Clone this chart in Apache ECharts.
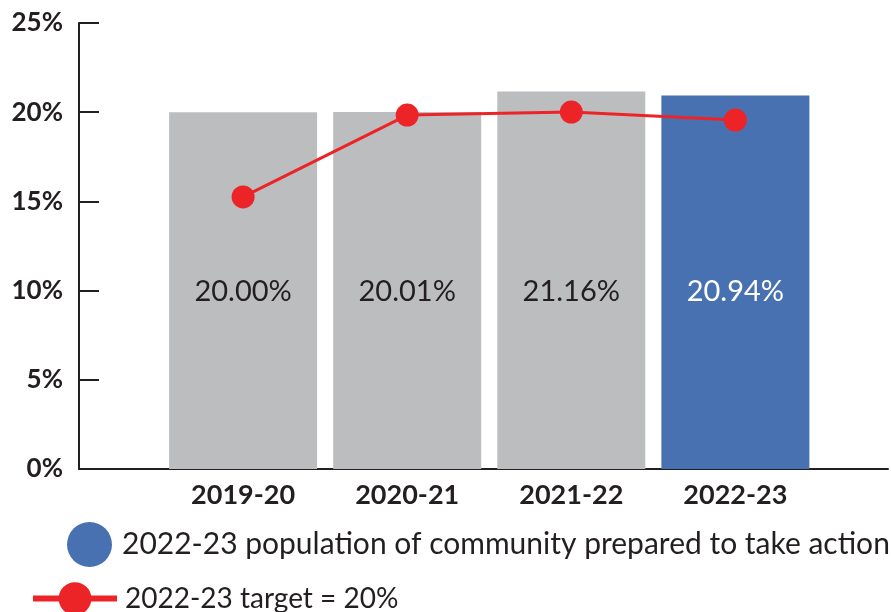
<!DOCTYPE html>
<html>
<head>
<meta charset="utf-8">
<script src="https://cdn.jsdelivr.net/npm/echarts@6/dist/echarts.min.js"></script>
<style>
  html, body { margin: 0; padding: 0; background: #fff; }
  #chart { width: 891px; height: 612px; }
</style>
</head>
<body>
<div id="chart"></div>
<script>
const categories = ['2019-20', '2020-21', '2021-22', '2022-23'];
const populationValues = [20.00, 20.01, 21.16, 20.94];
const targetValues = [15.25, 19.84, 20.01, 19.56];
const barName = '2022-23 population of community prepared to take action';
const lineName = '2022-23 target = 20%';

const font = 'Lato';
const grey = '#bcbdbf';
const blue = '#4771b1';
const red = '#ec2428';

let chart = echarts.init(document.getElementById('chart'));

// bars: grey for past years, blue for current
let barData = populationValues.map((v, i) => ({
    value: [i, v],
    itemStyle: { color: i === categories.length - 1 ? blue : grey },
    label: { color: i === categories.length - 1 ? '#fff' : '#231f20' }
}));
let lineData = targetValues.map((v, i) => [i, v]);

let option = {
    animation: false,
    grid: { left: 79, right: 0, top: 23, bottom: 143 },
    xAxis: {
        type: 'value',
        min: -1,
        max: 3.93,
        interval: 1,
        splitLine: { show: false },
        axisTick: { show: false },
        axisLine: { show: true, onZero: false, lineStyle: { color: '#231f20', width: 2 } },
        axisLabel: {
            margin: 13,
            fontFamily: font,
            fontWeight: 'bold',
            fontSize: 27,
            color: '#231f20',
            formatter: v => (Number.isInteger(v) && categories[v]) ? categories[v] : ''
        }
    },
    yAxis: {
        type: 'value',
        min: 0,
        max: 25,
        interval: 5,
        splitLine: { show: false },
        axisLine: { show: true, onZero: false, lineStyle: { color: '#231f20', width: 2 } },
        axisTick: { show: true, inside: true, length: 20, lineStyle: { color: '#231f20', width: 2 } },
        axisLabel: {
            margin: 16,
            fontFamily: font,
            fontWeight: 'bold',
            fontSize: 26,
            color: '#231f20',
            formatter: '{value}%'
        }
    },
    legend: [{
        orient: 'vertical',
        left: 67,
        top: 522,
        padding: 0,
        icon: 'circle',
        itemWidth: 45,
        itemHeight: 45,
        data: [barName],
        textStyle: { fontFamily: font, fontSize: 30, color: '#231f20', padding: [0, 0, 0, 5] }
    }, {
        orient: 'vertical',
        left: 30,
        bottom: -3,
        padding: 0,
        itemWidth: 84,
        itemHeight: 41,
        data: [lineName],
        lineStyle: { width: 6 },
        textStyle: { fontFamily: font, fontSize: 28, color: '#231f20', padding: [0, 0, 0, 3] }
    }],
    series: [{
        name: barName,
        type: 'bar',
        barWidth: 148,
        itemStyle: { color: blue },
        data: barData,
        label: {
            show: true,
            position: 'insideBottom',
            distance: 163,
            fontFamily: font,
            fontSize: 29,
            formatter: p => p.value[1].toFixed(2) + '%'
        }
    }, {
        name: lineName,
        type: 'line',
        data: lineData,
        symbol: 'circle',
        symbolSize: 23,
        itemStyle: { color: red },
        lineStyle: { color: red, width: 3 },
        z: 5
    }]
};

chart.setOption(option);
</script>
</body>
</html>
